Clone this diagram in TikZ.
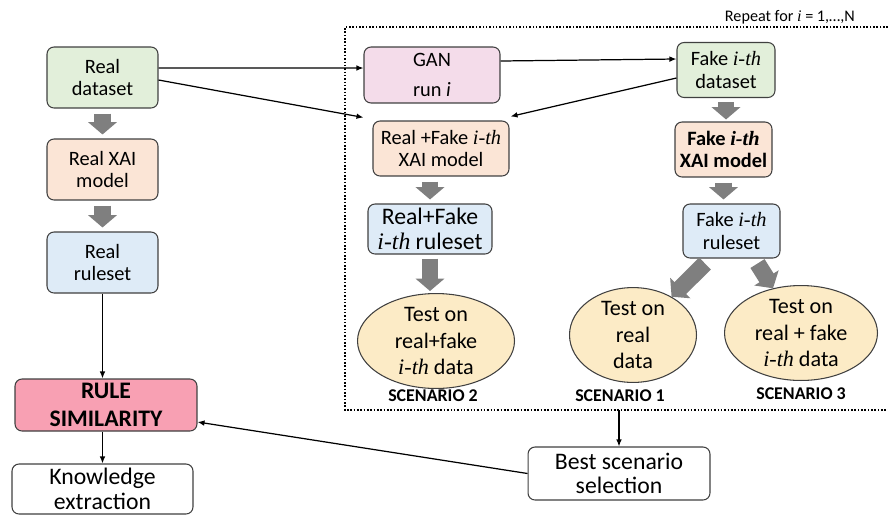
\documentclass[tikz,border=0pt]{standalone}
\usepackage{fontspec}
\setmainfont{Carlito}
\newfontfamily\ithfont{Liberation Serif}
\newcommand{\ith}{{\ithfont\itshape i-th}}
\usetikzlibrary{arrows.meta, shapes.geometric, positioning}

\definecolor{boxgreen}{HTML}{E2EFDA}
\definecolor{boxorange}{HTML}{FBE5D6}
\definecolor{boxblue}{HTML}{DEEBF7}
\definecolor{boxpink}{HTML}{F4DCEA}
\definecolor{simpink}{HTML}{F8A0B3}
\definecolor{testyellow}{HTML}{FCEBC6}
\definecolor{blockgray}{HTML}{7F7F7F}

\begin{document}
\begin{tikzpicture}[x=0.02cm, y=-0.02cm,
box/.style={draw=black!75, line width=0.6pt, rounded corners=4pt, inner sep=0pt,
  align=center, font=\fontsize{11.6}{12.8}\selectfont},
bigbox/.style={box, font=\fontsize{13.5}{14}\selectfont},
test/.style={ellipse, draw=black!75, line width=0.6pt, fill=testyellow, inner sep=0pt,
  align=center, font=\fontsize{12.6}{15}\selectfont},
scen/.style={font=\fontsize{10.2}{11}\bfseries\selectfont},
thin/.style={line width=0.7pt, -{Latex[length=4pt, width=3.2pt]}},
bigarrow/.style={draw=blockgray, line width=9.5pt, -{Triangle[length=7pt, width=16pt]}},
]
\useasboundingbox (0,0) rectangle (888,514);

% left column
\node[box, fill=boxgreen, minimum width=2.22cm, minimum height=1.22cm] (rd) at (102.5,77.5) {Real\\dataset};
\node[box, fill=boxorange, minimum width=2.22cm, minimum height=1.22cm] (rx) at (102.5,169.5) {Real XAI\\model};
\node[box, fill=boxblue, minimum width=2.22cm, minimum height=1.22cm] (rr) at (102.5,262.5) {Real\\ruleset};
\node[bigbox, fill=simpink, minimum width=3.64cm, minimum height=1.04cm,
  font=\fontsize{13.5}{16}\bfseries\selectfont] (sim) at (106,405) {RULE\\SIMILARITY};
\node[bigbox, fill=white, minimum width=3.62cm, minimum height=1.0cm] (know) at (102.5,489) {Knowledge\\extraction};

% repeated runs
\coordinate (ftl) at (345,27);
\coordinate (ftr) at (888,27);
\coordinate (fbl) at (345,410);
\coordinate (fbr) at (888,410);
\draw[densely dotted, line width=0.9pt] (ftr) -- (ftl) -- (fbl) -- (fbr);
\node[anchor=east, font=\fontsize{9.2}{10}\selectfont] (rep) at (861,17) {Repeat for {\ithfont\itshape i} = 1,…,N};

\node[box, fill=boxpink, minimum width=2.72cm, minimum height=1.12cm] (gan) at (432,75) {GAN\\[4pt]run \textit{i}};
\node[box, fill=boxorange, minimum width=2.72cm, minimum height=1.10cm] (rfx) at (441,148.5) {Real +Fake \ith\\XAI model};
\node[bigbox, fill=boxblue, minimum width=2.48cm, minimum height=1.00cm] (rfr) at (430,229) {Real+Fake\\\ith{} ruleset};
\node[box, fill=boxgreen, minimum width=1.96cm, minimum height=1.10cm] (fd) at (726,70) {Fake \ith\\dataset};
\node[box, fill=boxorange, minimum width=1.94cm, minimum height=1.10cm,
  font=\fontsize{11.6}{12.8}\bfseries\selectfont] (fx) at (723.5,149.5) {Fake \ith\\XAI model};
\node[box, fill=boxblue, minimum width=1.94cm, minimum height=1.08cm] (fr) at (731.5,231) {Fake \ith\\ruleset};

% scenarios
\node[test, minimum width=3.14cm, minimum height=1.78cm] (ell2) at (436,341) {Test on\\real+fake\\\ith{} data};
\node[test, minimum width=2.54cm, minimum height=1.80cm] (ell1) at (633,335) {Test on\\real\\data};
\node[test, minimum width=3.06cm, minimum height=1.80cm] (ell3) at (801,333) {Test on\\real + fake\\\ith{} data};
\node[scen] (s2) at (433,396) {SCENARIO 2};
\node[scen] (s1) at (620,396) {SCENARIO 1};
\node[scen] (s3) at (801,394) {SCENARIO 3};

\node[bigbox, fill=white, minimum width=3.64cm, minimum height=1.06cm] (best) at (619,473.5) {Best scenario\\selection};

% thin connectors
\draw[thin] ([yshift=0.19cm]rd.east) -- ([yshift=0.14cm]gan.west);
\draw[thin] ([yshift=-0.05cm]rd.east) -- ([xshift=-0.18cm,yshift=0.06cm]rfx.north west);
\draw[thin] ([yshift=0.28cm]gan.east) -- ([yshift=0.22cm]fd.west);
\draw[thin] ([yshift=-0.16cm]fd.west) -- ([xshift=0.02cm,yshift=0.08cm]rfx.north east);
\draw[thin] (rr.south) -- (rr.south |- sim.north);
\draw[thin] (know.north |- sim.south) -- (know.north);
\draw[thin] (best.north |- fbl) -- (best.north);
\draw[thin] (best.west) -- ([yshift=-0.34cm]sim.east);

% block arrows
\draw[bigarrow, shorten <=0.1cm, shorten >=0.08cm] (rd) -- (rx);
\draw[bigarrow, shorten <=0.1cm, shorten >=0.08cm] (rx) -- (rr);
\draw[bigarrow, shorten <=0.1cm, shorten >=0.08cm] (rfr.north |- rfx.south) -- (rfr.north);
\draw[bigarrow, shorten <=0.08cm, shorten >=0.04cm] (rfr.south) -- (rfr.south |- ell2.north);
\draw[bigarrow, shorten <=0.08cm, shorten >=0.04cm] (fd.south) -- (fd.south |- fx.north);
\draw[bigarrow, shorten <=0.1cm, shorten >=0.08cm] (fx.south) -- (fx.south |- fr.north);
\draw[bigarrow] ([xshift=-0.53cm,yshift=-0.1cm]fr.south) -- ([xshift=0.9cm,yshift=0.86cm]ell1);
\draw[bigarrow] ([xshift=0.52cm,yshift=-0.1cm]fr.south) -- ([xshift=-0.46cm,yshift=0.9cm]ell3);

\end{tikzpicture}
\end{document}
